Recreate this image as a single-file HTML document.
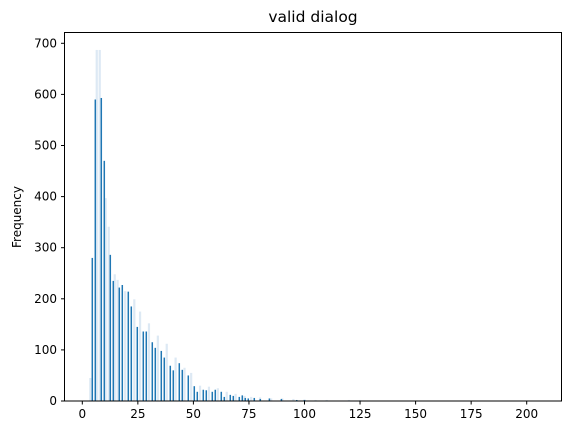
<!DOCTYPE html>
<html><head><meta charset="utf-8"><style>
body{margin:0;background:#fff;font-family:"Liberation Sans","DejaVu Sans",sans-serif}
svg text{font-family:"DejaVu Sans","Liberation Sans",sans-serif}
</style></head><body>
<svg id="chart" width="571" height="435" xmlns="http://www.w3.org/2000/svg">
<rect width="571" height="435" fill="#fff"/>
<text x="313" y="22" font-size="15.5" text-anchor="middle">valid dialog</text>
<text transform="translate(21,217) rotate(-90)" font-size="12" text-anchor="middle">Frequency</text>
<g id="bars"></g>
<rect x="64.5" y="32.5" width="497" height="368.5" fill="none" stroke="#000" stroke-width="1"/>
<g id="axes"></g>
</svg>
<script>
const darkX=[4.5,5.85,8.55,9.9,12.6,13.95,16.65,18,20.7,22.05,24.75,27.45,28.8,31.5,32.85,35.55,36.9,39.6,40.95,43.65,45,47.7,50.4,51.75,54.45,55.8,58.5,59.85,62.55,63.9,66.6,67.95,70.65,72,73.35,74.7,77.4,80.1,84.2,89.6,96.5,100];
const darkY=[280,590,593,470,286,235,222,227,214,185,145,136,136,115,104,98,85,69,60,74,61,50,29,18,22,21,18,22,18,8,12,10,8,11,6,5,6,4,5,4,2,2];
const lightX=[3.6,6.5,7.85,10.5,11.9,14.6,15.9,19.3,23.4,26,30,34,38,42,46,49,53,57,61,65,69,73,76,80,85,90,95,100,105,110,115,120,125,130,135,140,145,150,155];
const lightY=[45,687,687,397,341,248,237,215,199,175,152,128,112,85,65,55,30,28,25,18,14,10,8,7,5,5,4,3,2,2,1,2,2,1,1,1,1,1,1];
const xTicks=[0,25,50,75,100,125,150,175,200];
const yTicks=[0,100,200,300,400,500,600,700];
const NS="http://www.w3.org/2000/svg";
const xs=v=>82.3+v*2.222;
const ys=v=>401-v*0.511;
const bars=document.getElementById('bars'),axes=document.getElementById('axes');
function mk(tag,attrs,parent){const e=document.createElementNS(NS,tag);for(const k in attrs)e.setAttribute(k,attrs[k]);parent.appendChild(e);return e;}
lightX.forEach((x,i)=>{const r=mk('rect',{x:xs(x)-1.1,y:ys(lightY[i]),width:2.2,height:401-ys(lightY[i]),fill:'#dde9f4'},bars);

});
darkX.forEach((x,i)=>{const r=mk('rect',{x:xs(x)-0.75,y:ys(darkY[i]),width:1.5,height:401-ys(darkY[i]),fill:'#1f77b4'},bars);

});
xTicks.forEach(t=>{const x=xs(t);mk('line',{x1:x,x2:x,y1:401,y2:404.5,stroke:'#000'},axes);
const tx=mk('text',{x:x,y:418,'font-size':'12','text-anchor':'middle'},axes);tx.textContent=t;

});
yTicks.forEach(t=>{const y=ys(t);mk('line',{x1:64.5,x2:61,y1:y,y2:y,stroke:'#000'},axes);
const tx=mk('text',{x:57,y:y+4,'font-size':'12','text-anchor':'end'},axes);tx.textContent=t;

});
</script>
</body></html>
